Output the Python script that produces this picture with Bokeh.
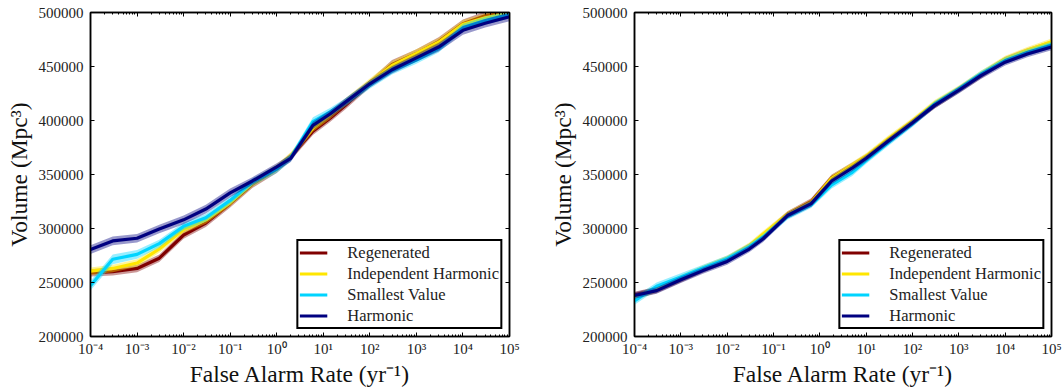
from bokeh.plotting import figure
from bokeh.layouts import row
from bokeh.models import Range1d, FixedTicker, LogAxis, LinearAxis
from bokeh.embed import file_html
from bokeh.resources import INLINE

# ---------------- data ----------------
series_names = ["Regenerated", "Independent Harmonic", "Smallest Value", "Harmonic"]
series_colors = ["#800000", "#ffe600", "#00d4ff", "#000080"]

far_left = [1e-4, 3e-4, 1e-3, 3e-3, 1e-2, 3e-2, 1e-1, 3e-1, 1.0, 2.0, 6.0, 14.0,
            30.0, 100.0, 300.0, 1e3, 3e3, 1e4, 3e4, 1e5]
regen_left = [259000, 260000, 263000, 272500, 294000, 305000, 323000, 341000, 355000, 366500,
              390000, 402000, 414000, 434000, 452000, 462000, 473000, 489500, 497000, 501000]
indep_left = [260500, 263000, 268000, 281000, 299000, 308000, 324000, 342000, 356000, 367000,
              393000, 405000, 417000, 435500, 451000, 462000, 472500, 489000, 495000, 499500]
small_left = [247000, 271500, 276000, 286000, 302000, 310000, 326000, 343000, 355000, 365500,
              399000, 408000, 417000, 433000, 446000, 456000, 466500, 486000, 492500, 498000]
harm_left = [280500, 288500, 291000, 299500, 308000, 318000, 333000, 344000, 357000, 365000,
             395500, 406000, 417000, 434000, 447000, 458000, 468000, 483500, 490000, 496000]
regen_left_err = [3500, 3500, 3500, 3500, 3500, 3500, 3500, 3500, 3500, 3500,
                  3500, 3500, 3500, 3500, 4000, 4000, 4000, 4000, 4000, 4000]
indep_left_err = [3500, 3500, 3500, 3500, 3500, 3500, 3500, 3500, 3500, 3500,
                  3500, 3500, 3500, 3500, 4000, 4000, 4000, 4000, 4000, 4000]
small_left_err = [4500, 4500, 4000, 3500, 3500, 3500, 3500, 3500, 3500, 3500,
                  4000, 3500, 3500, 3500, 3500, 3500, 3500, 3500, 3500, 3500]
harm_left_err = [4000, 4000, 4000, 4000, 4000, 4000, 4000, 3500, 3500, 3500,
                 3500, 3500, 3500, 3500, 3500, 3500, 4000, 4000, 4000, 4000]

far_right = [1e-4, 3e-4, 1e-3, 3e-3, 1e-2, 3e-2, 6e-2, 0.2, 0.65, 1.8, 5.0, 10.0,
             30.0, 100.0, 300.0, 1e3, 3e3, 1e4, 3e4, 1e5]
regen_right = [238500, 243000, 253000, 262000, 271000, 283000, 293000, 313000, 325000, 347000,
               358000, 366000, 381500, 398500, 414000, 428500, 442000, 456000, 464000, 471000]
indep_right = [236000, 244000, 254000, 263000, 272000, 284000, 295000, 313000, 324000, 346500,
               358500, 367000, 383000, 399500, 416000, 429500, 443000, 457000, 465000, 473000]
small_right = [233000, 246500, 255000, 263500, 272000, 283000, 292000, 311000, 322000, 340500,
               352000, 363000, 379500, 397000, 415000, 429000, 443000, 455500, 463000, 470000]
harm_right = [238000, 242500, 252500, 261000, 269500, 281000, 290500, 312000, 323000, 344000,
              356000, 365000, 381000, 398000, 414000, 428000, 441500, 454000, 461500, 468000]
regen_right_err = [3000] * 20
indep_right_err = [3000] * 20
small_right_err = [3500, 3500, 3500, 3000, 3000, 3000, 3000, 3000, 3000, 3500,
                   3500, 3000, 3000, 3000, 3000, 3000, 3000, 3000, 3000, 3000]
harm_right_err = [3000] * 20

x_exponents = [-4, -3, -2, -1, 0, 1, 2, 3, 4, 5]
minor_mults = [2, 3, 4, 5, 6, 7, 8, 9]
y_tick_values = [200000, 250000, 300000, 350000, 400000, 450000, 500000]
y_tick_labels = ["200000", "250000", "300000", "350000", "400000", "450000", "500000"]

x_label = "False Alarm Rate (yr\u207b\u00b9)"
y_label = "Volume (Mpc\u00b3)"

FONT = "Liberation Serif"
SUP = str.maketrans("-0123456789", "\u207b\u2070\u00b9\u00b2\u00b3\u2074\u2075\u2076\u2077\u2078\u2079")

x_major = [10.0 ** e for e in x_exponents]
x_minor = [m * 10.0 ** e for e in x_exponents[:-1] for m in minor_mults]
x_overrides = {10.0 ** e: "10" + str(e).translate(SUP) for e in x_exponents}
y_overrides = {v: s for v, s in zip(y_tick_values, y_tick_labels)}


def style_axis(ax, show_labels):
    ax.axis_line_width = 1.5
    ax.axis_line_color = "black"
    ax.major_tick_in = 4
    ax.major_tick_out = 0
    ax.minor_tick_in = 2
    ax.minor_tick_out = 0
    ax.major_tick_line_width = 1
    ax.minor_tick_line_width = 1
    ax.major_tick_line_color = "black"
    ax.minor_tick_line_color = "black"
    if show_labels:
        ax.major_label_text_font = FONT
        ax.major_label_text_font_size = "15px"
        ax.major_label_text_color = "#222222"
        ax.axis_label_text_font = FONT
        ax.axis_label_text_font_size = "23.5px"
        ax.axis_label_text_font_style = "normal"
        ax.axis_label_text_color = "#111111"
    else:
        ax.major_label_text_font_size = "1px"
        ax.major_label_text_alpha = 0
        ax.major_label_standoff = 0


def make_panel(far, series, errs, border_left, border_right, frame_w):
    p = figure(x_axis_type="log", x_range=Range1d(1e-4, 1e5), y_range=Range1d(200000, 500000),
               frame_width=frame_w, frame_height=324,
               min_border_left=border_left, min_border_right=border_right,
               min_border_top=12, min_border_bottom=51,
               output_backend="svg", toolbar_location=None)
    p.xgrid.visible = False
    p.ygrid.visible = False
    p.outline_line_color = "black"
    p.outline_line_width = 1.5
    p.background_fill_color = "white"
    p.border_fill_color = "white"

    xa = p.xaxis[0]
    xa.ticker = FixedTicker(ticks=x_major, minor_ticks=x_minor)
    xa.major_label_overrides = x_overrides
    xa.axis_label = x_label
    xa.major_label_standoff = 4
    xa.axis_label_standoff = 1
    style_axis(xa, True)

    ya = p.yaxis[0]
    ya.ticker = FixedTicker(ticks=y_tick_values, minor_ticks=[])
    ya.major_label_overrides = y_overrides
    ya.axis_label = y_label
    ya.major_label_standoff = 7
    ya.axis_label_standoff = 4
    style_axis(ya, True)

    top = LogAxis(ticker=FixedTicker(ticks=x_major, minor_ticks=x_minor))
    style_axis(top, False)
    p.add_layout(top, "above")
    right = LinearAxis(ticker=FixedTicker(ticks=y_tick_values, minor_ticks=[]))
    style_axis(right, False)
    p.add_layout(right, "right")

    for name, color, vals, err in zip(series_names, series_colors, series, errs):
        lo = [v - e for v, e in zip(vals, err)]
        hi = [v + e for v, e in zip(vals, err)]
        p.varea(x=far, y1=lo, y2=hi, fill_color=color, fill_alpha=0.4)
        p.line(x=far, y=vals, line_color=color, line_width=3.2, legend_label=name)

    lg = p.legend[0]
    lg.location = "bottom_right"
    lg.margin = 7
    lg.padding = 1
    lg.spacing = 0
    lg.label_height = 21
    lg.glyph_height = 21
    lg.glyph_width = 28
    lg.label_standoff = 20
    lg.label_text_font = FONT
    lg.label_text_font_size = "16.5px"
    lg.label_text_color = "#222222"
    lg.border_line_color = "black"
    lg.border_line_alpha = 1.0
    lg.border_line_width = 2
    lg.background_fill_color = "white"
    lg.background_fill_alpha = 1.0
    return p


p1 = make_panel(far_left, [regen_left, indep_left, small_left, harm_left],
                [regen_left_err, indep_left_err, small_left_err, harm_left_err], 90, 22, 419)
p2 = make_panel(far_right, [regen_right, indep_right, small_right, harm_right],
                [regen_right_err, indep_right_err, small_right_err, harm_right_err], 103, 12, 417)

layout = row(p1, p2, spacing=0)
open("out.html", "w").write(file_html(layout, INLINE))
